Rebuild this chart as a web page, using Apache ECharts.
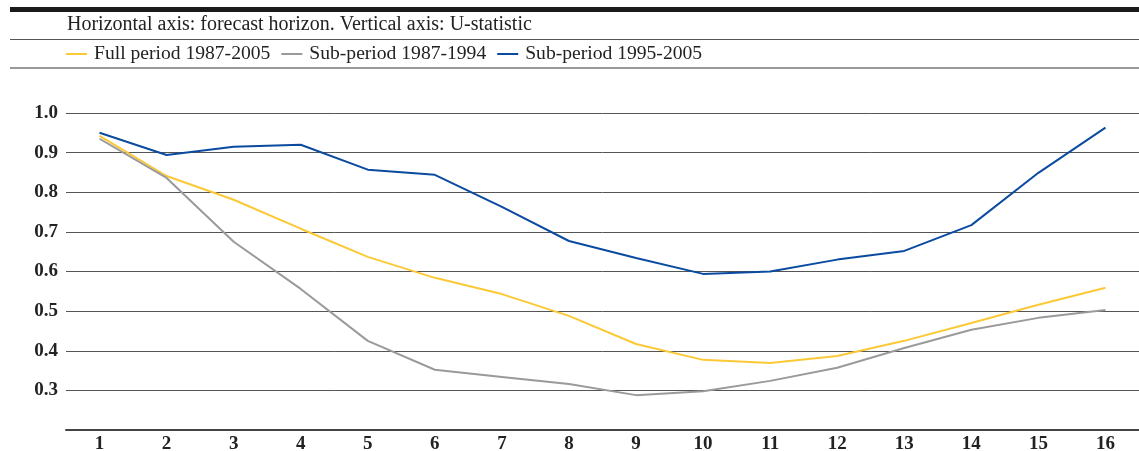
<!DOCTYPE html>
<html>
<head>
<meta charset="utf-8">
<script src="https://cdn.jsdelivr.net/npm/echarts@6/dist/echarts.min.js"></script>
<style>
  html, body { margin: 0; padding: 0; background: #fff; }
  #chart { width: 1139px; height: 451px; }
</style>
</head>
<body>
<div id="chart"></div>
<script>
// forecast horizon
const horizons = ['1', '2', '3', '4', '5', '6', '7', '8', '9', '10', '11', '12', '13', '14', '15', '16']

// U-statistic per period
const fullPeriod = [0.942, 0.841, 0.781, 0.708, 0.637, 0.584, 0.543, 0.488, 0.417, 0.377, 0.369, 0.387, 0.425, 0.470, 0.516, 0.559]
const sub8794 = [0.935, 0.836, 0.675, 0.556, 0.425, 0.352, 0.334, 0.316, 0.288, 0.298, 0.324, 0.357, 0.407, 0.453, 0.483, 0.503]
const sub9505 = [0.950, 0.894, 0.915, 0.920, 0.857, 0.844, 0.763, 0.677, 0.634, 0.594, 0.600, 0.630, 0.652, 0.717, 0.849, 0.963]

const names = ['Full period 1987-2005', 'Sub-period 1987-1994', 'Sub-period 1995-2005']
const colors = ['#fcc936', '#9a9a9c', '#0a4ba0']

const serif = '"Liberation Serif", "DejaVu Serif", serif'

const chart = echarts.init(document.getElementById('chart'))

const mkLine = (name, data, color) => ({
  name,
  type: 'line',
  data,
  symbol: 'none',
  lineStyle: { width: 2, color },
  itemStyle: { color },
})

chart.setOption({
  animation: false,
  backgroundColor: '#fff',
  graphic: [
    // header rules
    { type: 'rect', shape: { x: 10, y: 7, width: 1129, height: 5 }, style: { fill: '#1a1a1a' } },
    { type: 'rect', shape: { x: 10, y: 39, width: 1129, height: 1 }, style: { fill: '#555' } },
    { type: 'rect', shape: { x: 10, y: 67, width: 1129, height: 2 }, style: { fill: '#999' } },
    {
      type: 'text',
      left: 67,
      top: 15,
      style: {
        text: 'Horizontal axis: forecast horizon. Vertical axis: U-statistic',
        font: '20px ' + serif,
        fill: '#222',
      },
    },
  ],
  legend: {
    left: 66,
    top: 44,
    padding: 0,
    icon: 'rect',
    itemWidth: 21,
    itemHeight: 2,
    itemGap: 11,
    textStyle: { fontFamily: serif, fontSize: 19.6, color: '#222', padding: [0, 0, 0, 2] },
    data: names,
  },
  grid: { left: 66, right: 0, top: 113, bottom: 21, containLabel: false, outerBoundsMode: 'none' },
  xAxis: {
    type: 'category',
    data: horizons,
    boundaryGap: true,
    axisLine: { lineStyle: { color: '#444', width: 2 } },
    axisTick: { inside: true, alignWithLabel: true, length: 6, lineStyle: { color: '#444', width: 1 } },
    axisLabel: { fontFamily: serif, fontSize: 19, fontWeight: 'bold', color: '#222', margin: 5 },
  },
  yAxis: {
    type: 'value',
    min: 0.2,
    max: 1.0,
    interval: 0.1,
    axisLine: { show: false },
    axisTick: { show: false },
    axisLabel: {
      fontFamily: serif, fontSize: 19, fontWeight: 'bold', color: '#222', margin: 8,
      formatter: v => (Math.abs(v - 0.2) < 1e-6 ? '' : v.toFixed(1)),
    },
    splitLine: {
      lineStyle: { color: '#555', width: 1 },
    },
  },
  series: [
    mkLine(names[0], fullPeriod, colors[0]),
    mkLine(names[1], sub8794, colors[1]),
    mkLine(names[2], sub9505, colors[2]),
  ],
})
</script>
</body>
</html>
